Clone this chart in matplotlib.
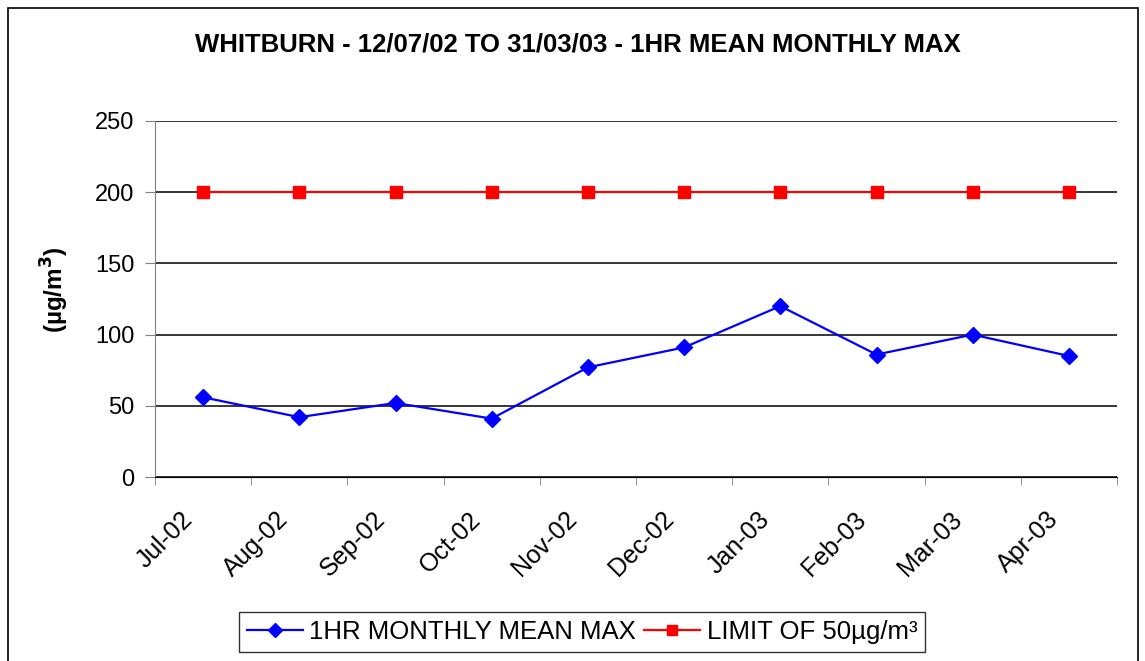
import matplotlib
matplotlib.use("Agg")
import matplotlib.pyplot as plt
import matplotlib.transforms as mtransforms
from matplotlib.patches import Rectangle

months = ["Jul-02", "Aug-02", "Sep-02", "Oct-02", "Nov-02",
          "Dec-02", "Jan-03", "Feb-03", "Mar-03", "Apr-03"]
monthly_max = [56, 42, 52, 41, 77, 91, 120, 86, 100, 85]
limit = [200] * len(months)

plt.rcParams["font.family"] = ["Liberation Sans", "DejaVu Sans"]

fig = plt.figure(figsize=(11.45, 6.61), dpi=100)
ax = fig.add_axes([155 / 1145, 1 - 477 / 661, (1117 - 155) / 1145, (477 - 121) / 661])

# outer chart frame (open at the bottom, as in the original)
fig.patches.append(Rectangle((8 / 1145, -0.01), (1138 - 8) / 1145, 1 - 8 / 661 + 0.01,
                             transform=fig.transFigure, fill=False,
                             edgecolor="black", linewidth=1.2))

x = list(range(len(months)))
ax.plot(x, monthly_max, "-D", color="#0000FF", lw=1.6, ms=8,
        label="1HR MONTHLY MEAN MAX")
ax.plot(x, limit, "-s", color="#FF0000", lw=1.6, ms=8,
        label="LIMIT OF 50µg/m³")

ax.set_xlim(-0.5, len(months) - 0.5)
ax.set_ylim(0, 250)
ax.set_yticks(range(0, 251, 50))
ax.tick_params(axis="y", labelsize=17, length=7, color="#808080", pad=8)
ax.yaxis.grid(True, color="black", lw=1.1)
ax.set_axisbelow(True)

# category labels: rotated, sitting just left of each point
ax.set_xticks(x)
ax.set_xticklabels([])
ax.tick_params(axis="x", which="major", length=0)
offset = mtransforms.ScaledTranslation(-0.23, -0.30, fig.dpi_scale_trans)
for i, m in enumerate(months):
    ax.text(i, 0, m, transform=ax.get_xaxis_transform() + offset,
            rotation=45, ha="right", va="top", rotation_mode="anchor", fontsize=18)
ax.set_xticks([i - 0.5 for i in range(len(months) + 1)], minor=True)
ax.tick_params(axis="x", which="minor", length=6, color="#808080")

for s in ["top", "right"]:
    ax.spines[s].set_visible(False)
ax.spines["left"].set_color("#808080")
ax.spines["bottom"].set_color("black")

ax.set_ylabel("(µg/m$^\\mathbf{3}$)", fontsize=17.5, fontweight="bold")
ax.yaxis.set_label_coords((71 - 155) / 962, (477 - 290) / 356)
fig.text(578 / 1145, 1 - 45 / 661, "WHITBURN - 12/07/02 TO 31/03/03 - 1HR MEAN MONTHLY MAX",
         ha="center", va="center", fontsize=18.5, fontweight="bold")

leg = fig.legend(loc="center", bbox_to_anchor=(582 / 1145, 1 - 632 / 661), ncol=2,
                 fontsize=18.5, frameon=True, fancybox=False, edgecolor="black",
                 handlelength=2.2, handletextpad=0.25, columnspacing=0.3,
                 borderpad=0.3, markerscale=0.9)
leg.get_frame().set_linewidth(1.0)

fig.savefig("out.png", dpi=100)
